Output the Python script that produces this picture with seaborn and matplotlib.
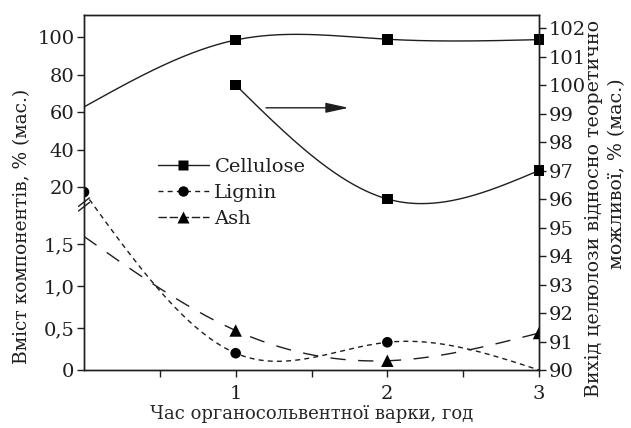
import numpy as np
import pandas as pd
import matplotlib
matplotlib.use("Agg")
import matplotlib.pyplot as plt
import seaborn as sns
from matplotlib.lines import Line2D

# ---------------- data ----------------
time = [0, 1, 2, 3]
cellulose = [62.7, 98.4, 98.8, 98.6]      # left axis, % (mass)
lignin = [17.3, 0.20, 0.33, 0.0]          # left axis
ash = [1.59, 0.47, 0.11, 0.44]            # left axis
yield_time = [1, 2, 3]
cell_yield = [100.0, 96.0, 97.0]          # right axis

left_ticks = [0, 0.5, 1.0, 1.5, 20, 40, 60, 80, 100]
left_ticklabels = ['0', '0,5', '1,0', '1,5', '20', '40', '60', '80', '100']
right_ticks = list(range(90, 103))
x_ticks = [0.5, 1, 1.5, 2, 2.5, 3]
x_ticklabels = ['', '1', '', '2', '', '3']

series_labels = ['Cellulose', 'Lignin', 'Ash']
xlabel = 'Час органосольвентної варки, год'
ylabel_left = 'Вміст компонентів, % (мас.)'
ylabel_right_1 = 'Вихід целюлози відносно теоретично'
ylabel_right_2 = 'можливої, % (мас.)'

# ---------------- broken left scale ----------------
K_LO, B_LO, B_HI, F_LO, K_HI, F20 = 84.0, 2.0, 16.0, 168.0, 1.875, 183.0
F_HI = F20 - (20 - B_HI) * K_HI


def fwd(v):
    v = np.asarray(v, dtype=float)
    return np.where(v <= B_LO, v * K_LO,
                    np.where(v <= B_HI, F_LO + (v - B_LO) * (F_HI - F_LO) / (B_HI - B_LO),
                             F_HI + (v - B_HI) * K_HI))


def inv(f):
    f = np.asarray(f, dtype=float)
    return np.where(f <= F_LO, f / K_LO,
                    np.where(f <= F_HI, B_LO + (f - F_LO) * (B_HI - B_LO) / (F_HI - F_LO),
                             B_HI + (f - F_HI) / K_HI))


def natural_spline(x, y, n=300):
    x = np.asarray(x, float)
    y = np.asarray(y, float)
    m = len(x)
    h = np.diff(x)
    A = np.zeros((m, m))
    r = np.zeros(m)
    A[0, 0] = A[-1, -1] = 1
    for i in range(1, m - 1):
        A[i, i - 1] = h[i - 1]
        A[i, i] = 2 * (h[i - 1] + h[i])
        A[i, i + 1] = h[i]
        r[i] = 6 * ((y[i + 1] - y[i]) / h[i] - (y[i] - y[i - 1]) / h[i - 1])
    M = np.linalg.solve(A, r)
    xs = np.linspace(x[0], x[-1], n)
    idx = np.clip(np.searchsorted(x, xs) - 1, 0, m - 2)
    x0, x1 = x[idx], x[idx + 1]
    hh = x1 - x0
    t0, t1 = x1 - xs, xs - x0
    ys = (M[idx] * t0 ** 3 + M[idx + 1] * t1 ** 3) / (6 * hh) \
        + (y[idx] / hh - M[idx] * hh / 6) * t0 + (y[idx + 1] / hh - M[idx + 1] * hh / 6) * t1
    return xs, ys


INK = '#1e1e1e'
sns.set_style('ticks')
plt.rcParams['font.family'] = ['DejaVu Serif', 'DejaVu Sans']
plt.rcParams['text.color'] = INK
plt.rcParams['axes.edgecolor'] = INK
plt.rcParams['xtick.color'] = INK
plt.rcParams['ytick.color'] = INK

W, H = 631, 428
fig = plt.figure(figsize=(W / 100, H / 100), dpi=100)
L, R, T, B = 84, 539, 15, 370
ax = fig.add_axes([L / W, 1 - B / H, (R - L) / W, (B - T) / H])
ax.set_yscale('function', functions=(fwd, inv))
ax.set_xlim(0, 3)
ax.set_ylim(0, float(inv(B - T)))

LS_LIG = (0, (3.6, 3.0))
LS_ASH = (0, (11, 9))
LW = 1.0

# smooth lines through the data, computed in displayed (scaled) coordinates
xs, fs = natural_spline(time, fwd(cellulose))
sns.lineplot(x=xs, y=inv(fs), ax=ax, color=INK, lw=LW, sort=False, estimator=None)
xs, fs = natural_spline(time, fwd(lignin))
sns.lineplot(x=xs, y=inv(fs), ax=ax, color=INK, lw=LW, sort=False, estimator=None, linestyle=LS_LIG)
xs, fs = natural_spline(time, fwd(ash))
sns.lineplot(x=xs, y=inv(fs), ax=ax, color=INK, lw=LW, sort=False, estimator=None, linestyle=LS_ASH)

sns.scatterplot(x=time[1:], y=cellulose[1:], ax=ax, marker='s', s=60, color='black',
                edgecolor='none', clip_on=False, zorder=5)
sns.scatterplot(x=time[:3], y=lignin[:3], ax=ax, marker='o', s=58, color='black',
                edgecolor='none', zorder=5)
sns.scatterplot(x=time[1:], y=ash[1:], ax=ax, marker='^', s=80, color='black',
                edgecolor='none', zorder=5)

ax.set_yticks(left_ticks)
ax.set_yticklabels(left_ticklabels)
ax.set_xticks(x_ticks)
ax.set_xticklabels(x_ticklabels)
ax.tick_params(axis='both', direction='out', length=5, width=1, labelsize=14, pad=6)
ax.tick_params(axis='y', pad=2)
for s in ax.spines.values():
    s.set_linewidth(1.0)
ax.set_xlabel(xlabel, fontsize=13, labelpad=1)
ax.set_ylabel('')

# right axis
ax2 = ax.twinx()
ax2.set_ylim(90, 90 + (B - T) / 28.5)
xs, ys = natural_spline(yield_time, cell_yield)
sns.lineplot(x=xs, y=ys, ax=ax2, color=INK, lw=LW, sort=False, estimator=None)
sns.scatterplot(x=yield_time, y=cell_yield, ax=ax2, marker='s', s=60, color='black',
                edgecolor='none', clip_on=False, zorder=5)
ax2.set_yticks(right_ticks)
ax2.tick_params(axis='y', direction='out', length=5, width=1, labelsize=14, pad=2)
ax2.set_ylabel('')
ax2.set_xlim(0, 3)
for s in ax2.spines.values():
    s.set_linewidth(1.0)

# arrow pointing to the right axis
ax2.annotate('', xy=(1.745, 99.2), xytext=(1.2, 99.2),
             arrowprops=dict(arrowstyle='-|>,head_length=1.0,head_width=0.22',
                             color=INK, lw=1.0, mutation_scale=14, shrinkA=0, shrinkB=0))

# axis break marks
for dy in (0.0, 0.013):
    ax.plot([-0.012, 0.012], [0.46 + dy - 0.012, 0.46 + dy + 0.012], transform=ax.transAxes,
            color=INK, lw=1.0, clip_on=False, zorder=6)

# labels as figure text
fig.text(22 / W, 1 - 226 / H, ylabel_left, rotation=90, ha='center', va='center', fontsize=13.4)
fig.text(594 / W, 1 - 208 / H, ylabel_right_1, rotation=90, ha='center', va='center', fontsize=13.7)
fig.text(617 / W, 1 - 174 / H, ylabel_right_2, rotation=90, ha='center', va='center', fontsize=13.7)

# legend
handles = [
    Line2D([], [], color=INK, lw=LW, marker='s', markersize=7.5, markerfacecolor='black', markeredgecolor='none'),
    Line2D([], [], color=INK, lw=LW, linestyle=LS_LIG, marker='o', markersize=7.5, markerfacecolor='black', markeredgecolor='none'),
    Line2D([], [], color=INK, lw=LW, linestyle=(0, (6, 2)), marker='^', markersize=8.5, markerfacecolor='black', markeredgecolor='none'),
]
ax2.legend(handles, series_labels, loc='upper left', bbox_to_anchor=((158 - L) / (R - L), (B - 158) / (B - T)),
           frameon=False, fontsize=14, handlelength=2.6, handletextpad=0.3, labelspacing=0.4,
           borderpad=0, borderaxespad=0)

fig.savefig('out.png', dpi=100)
